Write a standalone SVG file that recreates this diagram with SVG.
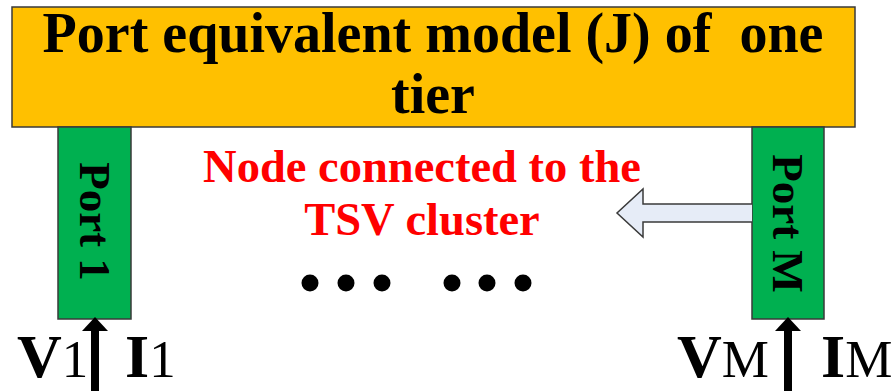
<svg xmlns="http://www.w3.org/2000/svg" width="892" height="391" viewBox="0 0 892 391">
  <defs>
    <style>
      .box { stroke: #3a3a3a; stroke-width: 1.5; }
      .title { font-family: "Liberation Serif", "Times New Roman", serif; font-weight: bold; font-size: 56px; fill: #000; white-space: pre; }
      .port { font-family: "Liberation Serif", "Times New Roman", serif; font-weight: bold; font-size: 45px; fill: #000; }
      .red { font-family: "Liberation Serif", "Times New Roman", serif; font-weight: bold; font-size: 46.5px; fill: #ff0000; }
      .lbl { font-family: "Liberation Serif", "Times New Roman", serif; font-weight: bold; font-size: 62px; fill: #000; }
      .sub { font-weight: normal; font-size: 53px; }
      .dot { fill: #000; }
    </style>
  </defs>

  <g id="model">
    <rect class="box" x="12" y="7" width="843" height="120" fill="#ffc000"/>
    <text class="title" x="433" y="52" text-anchor="middle">Port equivalent model (J) of  one</text>
    <text class="title" x="433" y="113" text-anchor="middle">tier</text>
  </g>

  <g id="port1">
    <rect class="box" x="58" y="127" width="73" height="192" fill="#00b050"/>
    <text class="port" transform="translate(80,221.5) rotate(90)" text-anchor="middle">Port 1</text>
  </g>

  <g id="portM">
    <rect class="box" x="752" y="127" width="72" height="192" fill="#00b050"/>
    <text class="port" transform="translate(773,223.5) rotate(90)" text-anchor="middle">Port M</text>
  </g>

  <g id="note">
    <text class="red" x="422" y="182" text-anchor="middle">Node connected to the</text>
    <text class="red" x="422" y="235" text-anchor="middle">TSV cluster</text>
  </g>

  <g id="dots">
    <circle class="dot" cx="310" cy="283" r="8.5"/>
    <circle class="dot" cx="346" cy="283" r="8.5"/>
    <circle class="dot" cx="382" cy="283" r="8.5"/>
    <circle class="dot" cx="452" cy="283" r="8.5"/>
    <circle class="dot" cx="487" cy="283" r="8.5"/>
    <circle class="dot" cx="523" cy="283" r="8.5"/>
  </g>

  <g id="labels">
    <text class="lbl" x="17" y="377">V<tspan class="sub">1</tspan></text>
    <text class="lbl" x="125" y="377">I<tspan class="sub">1</tspan></text>
    <text class="lbl" x="677" y="377">V<tspan class="sub">M</tspan></text>
    <text class="lbl" x="821" y="377">I<tspan class="sub">M</tspan></text>
  </g>

  <g id="connectors">
    <path d="M752,204 L643,204 L643,189 L617,213 L643,237 L643,222 L752,222" fill="#e6ecf7" stroke="#3a3a3a" stroke-width="1.5" stroke-linejoin="miter"/>
    <line x1="95" y1="391" x2="95" y2="331" stroke="#000" stroke-width="8"/>
    <path d="M82,331 L95,317 L108,331 z" fill="#000"/>
    <line x1="788" y1="391" x2="788" y2="331" stroke="#000" stroke-width="8"/>
    <path d="M775,331 L788,317 L801,331 z" fill="#000"/>
  </g>
</svg>
